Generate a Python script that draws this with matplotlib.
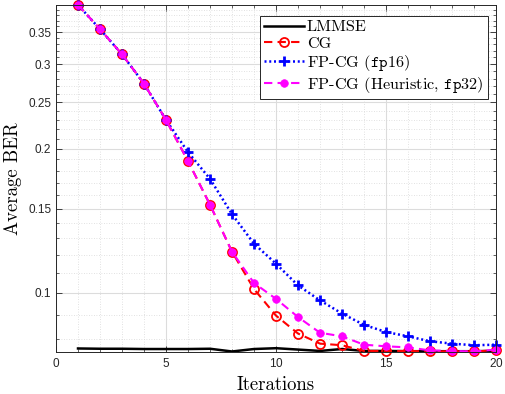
import numpy as np
import matplotlib.pyplot as plt
from matplotlib.ticker import FixedLocator, NullFormatter

plt.rcParams['mathtext.fontset'] = 'cm'
plt.rcParams['axes.formatter.use_mathtext'] = True

iters = np.arange(1, 21)

ber_lmmse = [0.0766, 0.0765, 0.0765, 0.0764, 0.0764, 0.0764, 0.0765, 0.0755, 0.0764, 0.0767,
             0.0762, 0.0757, 0.0764, 0.0757, 0.0757, 0.0756, 0.0756, 0.0756, 0.0756, 0.0757]
ber_cg = [0.399, 0.355, 0.3147, 0.2733, 0.2296, 0.1884, 0.1528, 0.1219, 0.1019, 0.0897,
          0.0823, 0.0784, 0.0778, 0.0757, 0.0757, 0.0757, 0.0755, 0.0756, 0.0755, 0.076]
ber_fp16 = [0.399, 0.355, 0.3147, 0.2733, 0.2296, 0.1967, 0.173, 0.146, 0.1267, 0.1151,
            0.1037, 0.0965, 0.0906, 0.0858, 0.0829, 0.0812, 0.0793, 0.0784, 0.0778, 0.078]
ber_heur = [0.399, 0.355, 0.3147, 0.2733, 0.2296, 0.1884, 0.1528, 0.1219, 0.1049, 0.0972,
            0.0891, 0.0826, 0.0812, 0.078, 0.0774, 0.077, 0.0759, 0.0757, 0.0755, 0.0762]

labels = ['LMMSE', 'CG', r'FP-CG ($\mathtt{fp16}$)', r'FP-CG (Heuristic, $\mathtt{fp32}$)']
yticks = [0.1, 0.15, 0.2, 0.25, 0.3, 0.35]
ytick_labels = ['0.1', '0.15', '0.2', '0.25', '0.3', '0.35']

fig = plt.figure(figsize=(5.05, 3.94), dpi=100)
ax = fig.add_axes([0.1109, 0.1058, 0.8713, 0.8822])

ax.plot(iters, ber_lmmse, '-', color='black', lw=1.8, label=labels[0])
ax.plot(iters, ber_cg, color='red', lw=1.5, ls=(0, (4, 2.5)), marker='o', ms=6.5, mfc='none',
        mec='red', mew=1.3, label=labels[1], clip_on=False)
ax.plot(iters, ber_fp16, color='blue', lw=1.8, ls=(0, (0.8, 1.1)), marker='+', ms=7, mew=2,
        label=labels[2], clip_on=False)
ax.plot(iters, ber_heur, color='magenta', lw=1.5, ls=(0, (4, 2.5)), marker='o', ms=5.5,
        mfc='magenta', mec='magenta', mew=0.5, label=labels[3], clip_on=False)

ax.set_yscale('log')
ax.set_xlim(0, 20)
ax.set_ylim(0.0752, 0.3993)
ax.set_xticks([0, 5, 10, 15, 20])
ax.set_xticks(np.arange(0, 21), minor=True)
ax.yaxis.set_major_locator(FixedLocator(yticks))
ax.set_yticklabels(ytick_labels)
ax.yaxis.set_minor_locator(FixedLocator(np.arange(0.08, 0.40, 0.01)))
ax.yaxis.set_minor_formatter(NullFormatter())

for lab in ax.get_xticklabels() + ax.get_yticklabels():
    lab.set_fontfamily('Liberation Sans')
    lab.set_fontsize(8.5)
    lab.set_color('#262626')

ax.tick_params(which='both', direction='in', top=True, right=True, colors='#262626')
ax.tick_params(which='major', length=4, width=0.6)
ax.tick_params(which='minor', length=2, width=0.5)
ax.grid(which='major', color='#dcdcdc', lw=0.8, ls='-')
ax.grid(which='minor', color='#d8d8d8', lw=0.6, ls=(0, (1, 2)))
ax.set_axisbelow(True)
for sp in ax.spines.values():
    sp.set_color('#262626')
    sp.set_linewidth(0.7)

ax.set_xlabel('Iterations', fontfamily='cmr10', fontsize=13.5, labelpad=4)
ax.set_ylabel('Average BER', fontfamily='cmr10', fontsize=13.5, labelpad=4)

leg = ax.legend(loc='upper right', bbox_to_anchor=(0.981, 0.968), borderaxespad=0,
                prop={'family': 'cmr10', 'size': 11.7}, fancybox=False, framealpha=1,
                edgecolor='#262626', handlelength=2.5, handletextpad=0.15,
                labelspacing=0.12, borderpad=0.25)
leg.get_frame().set_linewidth(0.7)

fig.savefig('out.png', dpi=100)
